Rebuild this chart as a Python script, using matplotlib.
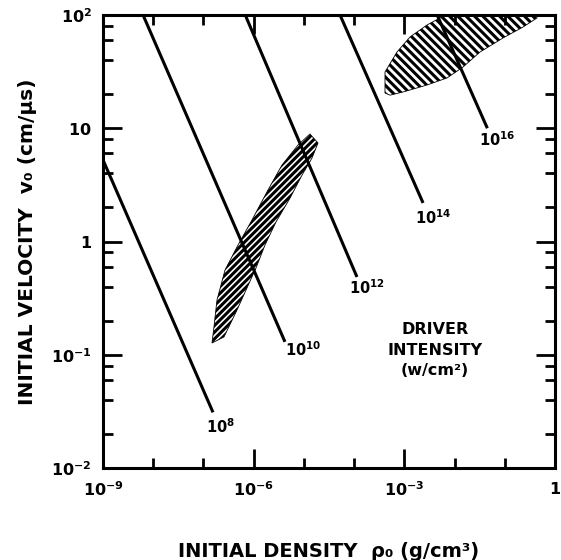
import matplotlib
matplotlib.use("Agg")
import matplotlib.pyplot as plt
from matplotlib.patches import Polygon
from matplotlib.ticker import FixedLocator, NullFormatter
import numpy as np

# ---------------- data ----------------
intensity_labels = [r'$\mathbf{10^{8}}$', r'$\mathbf{10^{10}}$', r'$\mathbf{10^{12}}$',
                    r'$\mathbf{10^{14}}$', r'$\mathbf{10^{16}}$']
line_rho_start = [1e-9, 6.27e-9, 6.8e-7, 5.24e-5, 4.5e-3]
line_v_start = [5.25, 100.0, 100.0, 100.0, 100.0]
line_rho_end = [1.55e-7, 4.2e-6, 1.14e-4, 2.36e-3, 4.5e-2]
line_v_end = [0.031, 0.13, 0.486, 2.19, 10.0]
label_rho = [2.14e-7, 9.6e-6, 1.81e-4, 3.72e-3, 0.070]
label_v = [0.023, 0.110, 0.388, 1.61, 7.87]

# hatched band (lower-left region)
band_rho = [1.48e-7, 1.62e-7, 1.86e-7, 2.69e-7, 4.88e-7, 9.27e-7, 1.93e-6, 3.66e-6,
            7.64e-6, 1.32e-5,
            1.91e-5, 1.45e-5, 9.18e-6, 5.30e-6, 2.79e-6, 1.68e-6, 1.11e-6, 7.05e-7,
            4.45e-7, 2.56e-7]
band_v = [0.127, 0.176, 0.304, 0.56, 0.93, 1.55, 2.85, 4.73, 7.11, 8.9,
          7.41, 5.46, 3.86, 2.42, 1.49, 0.93, 0.583, 0.373, 0.238, 0.1436]

# hatched region (upper right)
cap_rho = [4.12e-4, 4.12e-4, 7.14e-4, 1.30e-3, 2.83e-3, 5.13e-3, 5.2e-3, 0.438,
           0.438, 0.231, 0.0923, 0.0321, 0.0147, 7.08e-3, 2.83e-3, 9.42e-4, 5.19e-4]
cap_v = [20.5, 31.4, 47.1, 64.0, 81.6, 94.2, 100.0, 100.0,
         94.2, 78.3, 62.7, 47.1, 34.7, 27.8, 24.1, 20.9, 19.6]

x_major = [1e-9, 1e-6, 1e-3, 1.0]
x_major_labels = [r'$\mathbf{10^{-9}}$', r'$\mathbf{10^{-6}}$', r'$\mathbf{10^{-3}}$', r'$\mathbf{1}$']
x_minor = [1e-8, 1e-7, 1e-5, 1e-4, 1e-2, 1e-1]
y_major = [1e-2, 1e-1, 1.0, 10.0, 100.0]
y_major_labels = [r'$\mathbf{10^{-2}}$', r'$\mathbf{10^{-1}}$', r'$\mathbf{1}$', r'$\mathbf{10}$', r'$\mathbf{10^{2}}$']
y_minor_mult = [2, 4, 6, 8]

# ---------------- figure ----------------
plt.rcParams['font.family'] = ['DejaVu Sans']
plt.rcParams['font.weight'] = 'bold'
plt.rcParams['mathtext.default'] = 'bf'
plt.rcParams['hatch.linewidth'] = 2.2

fig = plt.figure(figsize=(5.61, 5.60), dpi=100)
ax = fig.add_axes([103 / 561, 92 / 560, 452 / 561, 453 / 560])
ax.set_xscale('log')
ax.set_yscale('log')
ax.set_xlim(1e-9, 1.0)
ax.set_ylim(1e-2, 1e2)

# hatched regions
ax.add_patch(Polygon(np.column_stack([band_rho, band_v]), closed=True,
                     facecolor='none', edgecolor='black', linewidth=0.6, hatch='/////'))
ax.add_patch(Polygon(np.column_stack([cap_rho, cap_v]), closed=True,
                     facecolor='none', edgecolor='black', linewidth=0.6, hatch='\\\\\\\\'))

# driver intensity lines
for i in range(len(intensity_labels)):
    ax.plot([line_rho_start[i], line_rho_end[i]], [line_v_start[i], line_v_end[i]],
            color='black', lw=2.2, solid_capstyle='butt')
    ax.text(label_rho[i], label_v[i], intensity_labels[i], ha='center', va='center',
            fontsize=10.5, color='black')

ax.text(0.734, 0.26, 'DRIVER\nINTENSITY\n(w/cm²)', transform=ax.transAxes,
        ha='center', va='center', fontsize=11.5, fontweight='bold', linespacing=1.45)

# ticks
ax.xaxis.set_major_locator(FixedLocator(x_major))
ax.set_xticklabels(x_major_labels)
ax.xaxis.set_minor_locator(FixedLocator(x_minor))
ax.xaxis.set_minor_formatter(NullFormatter())
ax.yaxis.set_major_locator(FixedLocator(y_major))
ax.set_yticklabels(y_major_labels)
y_minor = [m * d for d in y_major[:-1] for m in y_minor_mult]
ax.yaxis.set_minor_locator(FixedLocator(y_minor))
ax.yaxis.set_minor_formatter(NullFormatter())

ax.tick_params(which='both', direction='in', top=True, right=True, width=2.0,
               colors='black')
ax.tick_params(which='major', length=14, labelsize=11.5)
ax.tick_params(axis='x', which='major', pad=9)
ax.tick_params(axis='y', which='major', pad=8)
ax.tick_params(which='minor', length=7)
for sp in ax.spines.values():
    sp.set_linewidth(2.2)
    sp.set_color('black')

ax.set_xlabel('INITIAL DENSITY  ρ₀ (g/cm³)', fontsize=14, fontweight='bold', labelpad=31)
ax.set_ylabel('INITIAL VELOCITY  v₀ (cm/μs)', fontsize=14.5, fontweight='bold', va='center')
ax.yaxis.set_label_coords(-0.166, 0.5)

fig.savefig('out.png', dpi=100)
